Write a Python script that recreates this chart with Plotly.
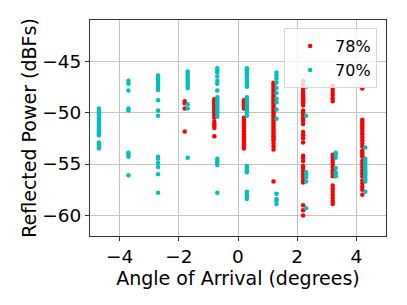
import plotly.graph_objects as go

# Column positions (degrees)
red_cols = [-1.8, -0.8, 0.2, 1.2, 2.2, 3.2, 4.2]
cyan_cols = [-4.7, -3.7, -2.7, -1.7, -0.7, 0.3, 1.3, 2.3, 3.3, 4.3]

# 78% series (red), reflected power per column
red_m18 = [-48.9, -49.1, -49.6, -51.85]
red_m08 = [-48.7, -48.9, -49.1, -49.3, -49.5, -49.7, -49.9, -50.1, -50.3, -50.5,
           -50.9, -51.1, -51.3, -51.5, -52.3]
red_p02 = [-48.8, -49.0, -49.2, -49.4, -49.6, -50.5, -50.7, -50.9, -51.1, -51.3,
           -51.5, -51.7, -51.9, -52.1, -52.3, -52.5, -52.7, -52.9, -53.1, -53.3, -53.5]
red_p12 = [-47.1, -47.3, -47.5, -47.7, -47.9, -48.1, -48.3, -48.5, -48.7, -48.9,
           -49.1, -49.3, -49.5, -49.7, -49.9, -50.1, -50.3, -50.5, -50.7, -50.9,
           -51.1, -51.3, -51.5, -51.7, -51.9, -52.1, -52.3, -52.5, -52.7, -53.0,
           -53.3, -53.6, -56.7]
red_p22 = [-46.9, -47.1, -47.3, -47.5, -47.7, -47.9, -48.1, -48.3, -48.5, -48.7,
           -48.9, -49.1, -49.3, -49.8, -50.0, -50.2, -50.4, -50.6, -50.8, -51.1,
           -51.9, -52.2, -52.5, -52.9, -54.2, -54.4, -54.7, -55.2, -55.4, -55.7,
           -56.0, -56.3, -56.6, -56.8, -59.0, -59.5, -60.0]
red_p32 = [-47.4, -47.7, -48.0, -48.3, -48.6, -48.9, -54.1, -54.4, -54.7, -55.0,
           -55.3, -55.6, -55.9, -56.2, -57.1, -57.4, -57.7, -58.0, -58.3, -58.6, -58.9]
red_p42 = [-47.65, -50.7, -50.9, -51.1, -51.3, -51.5, -51.7, -51.9, -52.1, -52.4,
           -52.7, -53.0, -53.3, -53.7, -53.9, -54.1, -54.3, -54.7, -55.0, -55.3,
           -55.6, -55.9, -56.2, -56.6, -56.9, -57.2, -57.5, -58.0]
red_vals = [red_m18, red_m08, red_p02, red_p12, red_p22, red_p32, red_p42]

# 70% series (cyan)
cyan_m47 = [-49.6, -49.8, -50.0, -50.2, -50.4, -50.6, -50.8, -51.0, -51.2, -51.4,
            -51.6, -51.8, -52.0, -52.2, -52.9, -53.1, -53.3, -53.5]
cyan_m37 = [-46.9, -47.2, -47.85, -49.6, -49.8, -53.9, -54.1, -54.3, -56.1]
cyan_m27 = [-46.4, -46.6, -46.8, -47.0, -47.2, -47.4, -47.6, -47.8, -48.8, -49.8,
            -50.3, -54.3, -54.5, -54.9, -55.3, -56.0, -57.8]
cyan_m17 = [-46.0, -46.2, -46.4, -46.6, -46.8, -47.0, -47.2, -47.4, -47.6, -49.2,
            -49.6, -54.4]
cyan_m07 = [-45.7, -45.9, -46.1, -46.5, -46.9, -47.2, -47.85, -48.5, -48.7, -48.9,
            -49.1, -49.3, -49.5, -49.7, -49.9, -50.1, -50.4, -54.5, -54.7, -54.9,
            -55.1, -57.8]
cyan_p03 = [-45.7, -45.9, -46.1, -46.3, -46.5, -46.7, -46.9, -47.1, -47.3, -47.5,
            -48.5, -48.7, -49.0, -49.2, -49.4, -49.6, -49.8, -50.0, -50.3, -55.2,
            -55.4, -55.6, -55.8, -57.7, -57.9, -58.1, -58.4]
cyan_p13 = [-46.1, -46.4, -46.7, -47.1, -47.6, -48.1, -48.65, -49.0, -49.7, -50.6,
            -57.9, -58.4, -58.6, -58.9]
cyan_p23 = [-47.5, -50.3, -55.8, -56.0, -56.3, -56.7, -59.3]
cyan_p33 = [-53.9, -54.1, -54.4, -55.4, -55.8, -56.0, -56.2]
cyan_p43 = [-53.4, -54.5, -54.7, -54.9, -55.1, -55.3, -55.5, -55.7, -55.9, -56.1,
            -56.3, -56.5, -56.7, -57.7]
cyan_vals = [cyan_m47, cyan_m37, cyan_m27, cyan_m17, cyan_m07, cyan_p03, cyan_p13,
             cyan_p23, cyan_p33, cyan_p43]

series_names = ["78%", "70%"]
x_ticks = [-4, -2, 0, 2, 4]
y_ticks = [-45, -50, -55, -60]


def flatten(cols, vals):
    xs, ys = [], []
    for c, v in zip(cols, vals):
        xs += [c] * len(v)
        ys += v
    return xs, ys


rx, ry = flatten(red_cols, red_vals)
cx, cy = flatten(cyan_cols, cyan_vals)

FONT = "DejaVu Sans"

fig = go.Figure()
fig.add_trace(go.Scatter(x=rx, y=ry, mode="markers", name=series_names[0],
                         marker=dict(color="#ff0000", size=4.5, line=dict(width=0))))
fig.add_trace(go.Scatter(x=cx, y=cy, mode="markers", name=series_names[1],
                         marker=dict(color="#00bfbf", size=4.5, line=dict(width=0))))

axis_common = dict(
    showgrid=True, gridcolor="#c4c4c4", gridwidth=1,
    showline=True, linecolor="#333333", linewidth=1, mirror=True,
    ticks="outside", ticklen=4, tickcolor="#333333", tickwidth=1,
    zeroline=False,
    tickfont=dict(family=FONT, size=18.5, color="black"),
)

fig.update_xaxes(range=[-5, 5], tickvals=x_ticks,
                 title=dict(text="Angle of Arrival (degrees)",
                            font=dict(family=FONT, size=19, color="black"),
                            standoff=0),
                 **axis_common)
fig.update_yaxes(range=[-62, -41], tickvals=y_ticks,
                 title=dict(text="Reflected Power (dBFs)",
                            font=dict(family=FONT, size=19, color="black"),
                            standoff=0),
                 **axis_common)

fig.update_layout(
    width=399, height=297,
    margin=dict(l=82, r=21, t=12, b=69, autoexpand=False),
    plot_bgcolor="white", paper_bgcolor="white",
    font=dict(family=FONT, size=16, color="black"),
    showlegend=True,
    legend=dict(x=0.97, y=0.962, xanchor="right", yanchor="top",
                bgcolor="rgba(255,255,255,0.8)", bordercolor="#d6d6d6", borderwidth=1,
                font=dict(family=FONT, size=16, color="black"),
                itemwidth=40, tracegroupgap=0),
)

fig.write_html("out.html")
